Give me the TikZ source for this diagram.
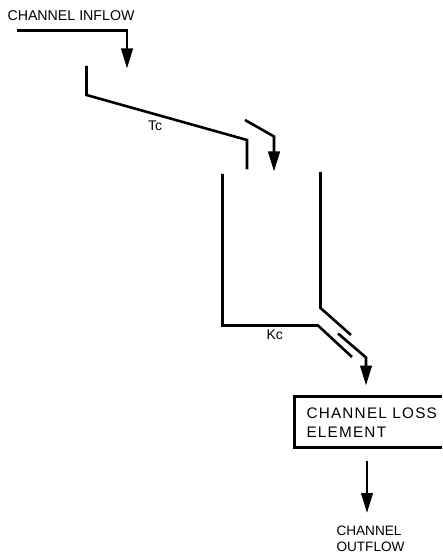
\documentclass[tikz,border=0pt]{standalone}
\usepackage{fontspec}
\setmainfont{Liberation Sans}
\newfontfamily\spaced[LetterSpace=8]{Liberation Sans}
\usetikzlibrary{arrows.meta}
\tikzset{
  wall/.style={line width=2.6pt,line cap=butt,line join=miter,black},
  flow/.style={wall,-{Triangle[length=20pt,width=11.5pt]}},
  lab/.style={inner sep=0pt,outer sep=0pt,anchor=base west,font=\fontsize{13.6}{16}\selectfont},
  boxlab/.style={inner sep=0pt,outer sep=0pt,anchor=base west,font=\fontsize{15.3}{19.5}\selectfont\spaced},
}
\begin{document}
\begin{tikzpicture}[x=1pt,y=-1pt]
\useasboundingbox (0,0) rectangle (442,553);
\fill[white] (0,0) rectangle (442,553);
% labels
\node[lab,font=\fontsize{14.2}{16}\selectfont] (inflowlab) at (7.5,21) {CHANNEL INFLOW};
\node[lab,font=\fontsize{14}{16}\selectfont] (tclab) at (148,130.5) {Tc};
\node[lab,font=\fontsize{14}{16}\selectfont] (kclab) at (266.5,339) {Kc};
\node[boxlab] (lossa) at (306.5,418.5) {CHANNEL LOSS};
\node[boxlab] (lossb) at (306.5,437.5) {ELEMENT};
\node[lab] (outa) at (336.5,535.5) {CHANNEL};
\node[lab] (outb) at (336.5,551.5) {OUTFLOW};
% coordinates
\coordinate (inS) at (17,30.5);
\coordinate (inC) at (127,30.5);
\coordinate (inT) at (127,68.5);
\coordinate (tA) at (86.5,66);
\coordinate (tB) at (86.5,95);
\coordinate (tC) at (247,140);
\coordinate (tD) at (247,169.5);
\coordinate (oA) at (245,120);
\coordinate (oB) at (274,136.5);
\coordinate (oT) at (274,171.5);
\coordinate (cA) at (222.5,174);
\coordinate (cB) at (222.5,325.5);
\coordinate (cC) at (318,325.5);
\coordinate (cD) at (352,357);
\coordinate (rA) at (320.5,172);
\coordinate (rB) at (320.5,308);
\coordinate (rC) at (351,335);
\coordinate (sA) at (338,333.5);
\coordinate (sB) at (366,357.5);
\coordinate (sT) at (366,385.5);
\coordinate (bA) at (442,396.5);
\coordinate (bB) at (294.5,396.5);
\coordinate (bC) at (294.5,447.5);
\coordinate (bD) at (442,447.5);
\coordinate (eS) at (367,461);
\coordinate (eT) at (367,513);
% lines
\draw[flow] (inS) -- (inC) -- (inT);
\draw[wall] (tA) -- (tB) -- (tC) -- (tD);
\draw[flow] (oA) -- (oB) -- (oT);
\draw[wall] (cA) -- (cB) -- (cC) -- (cD);
\draw[wall] (rA) -- (rB) -- (rC);
\draw[flow] (sA) -- (sB) -- (sT);
\draw[wall,line width=3pt] (bA) -- (bB) -- (bC) -- (bD);
\draw[flow] (eS) -- (eT);
\end{tikzpicture}
\end{document}
